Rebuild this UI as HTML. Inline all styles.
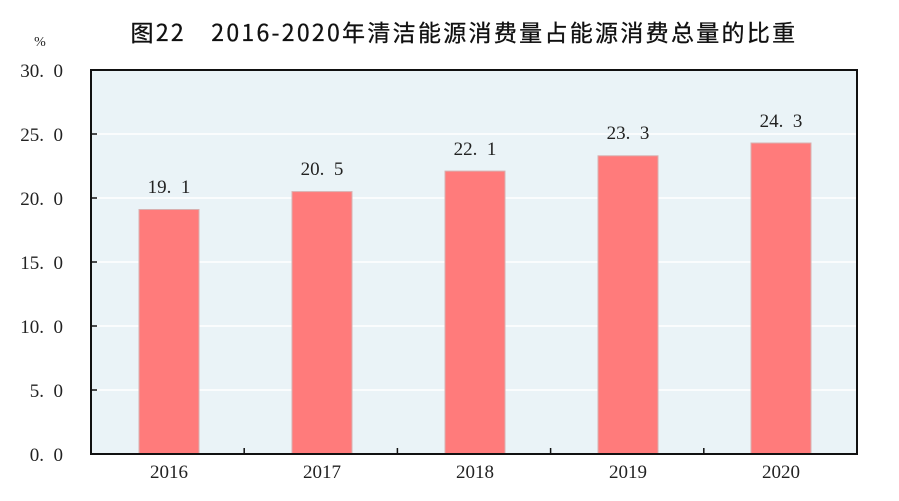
<!DOCTYPE html>
<html><head><meta charset="utf-8"><style>
body{margin:0;background:#fff;}
svg{display:block;}
text{white-space:pre;}
</style></head><body>
<svg width="899" height="501" xmlns="http://www.w3.org/2000/svg">
<text x="464" y="41" text-anchor="middle" font-family="'Noto Sans CJK SC',sans-serif" font-size="23" letter-spacing="2.3" fill="#111" stroke="#111" stroke-width="0.3">图22　2016-2020年清洁能源消费量占能源消费总量的比重</text>
<text x="40" y="46" text-anchor="middle" font-family="'Liberation Serif','Noto Serif CJK SC',serif" font-size="14" fill="#222">%</text>
<rect x="91" y="70" width="766" height="384" fill="#EAF3F7"/>
<g stroke="#fff" stroke-width="1.5">
<line x1="91" x2="857" y1="134" y2="134"/><line x1="91" x2="857" y1="198" y2="198"/>
<line x1="91" x2="857" y1="262" y2="262"/><line x1="91" x2="857" y1="326" y2="326"/>
<line x1="91" x2="857" y1="390" y2="390"/>
</g>
<g fill="#FF7B7B" stroke="#d8b0b0" stroke-width="1">
<rect x="139" y="209.5" width="60" height="244.5"/>
<rect x="292" y="191.6" width="60" height="262.4"/>
<rect x="445" y="171.1" width="60" height="282.9"/>
<rect x="598" y="155.8" width="60" height="298.2"/>
<rect x="751" y="143" width="60" height="311"/>
</g>
<rect x="91" y="70" width="766" height="384" fill="none" stroke="#111" stroke-width="2"/>
<g stroke="#111" stroke-width="1.5">
<line x1="91" x2="97" y1="134" y2="134"/><line x1="91" x2="97" y1="198" y2="198"/>
<line x1="91" x2="97" y1="262" y2="262"/><line x1="91" x2="97" y1="326" y2="326"/>
<line x1="91" x2="97" y1="390" y2="390"/>
<line x1="244.2" x2="244.2" y1="448" y2="454"/><line x1="397.4" x2="397.4" y1="448" y2="454"/>
<line x1="550.6" x2="550.6" y1="448" y2="454"/><line x1="703.8" x2="703.8" y1="448" y2="454"/>
</g>
<g font-family="'Liberation Serif',serif" font-size="19" fill="#222" text-anchor="end">
<text x="63" y="77">30.  0</text><text x="63" y="141">25.  0</text><text x="63" y="205">20.  0</text>
<text x="63" y="269">15.  0</text><text x="63" y="333">10.  0</text><text x="63" y="397">5.  0</text>
<text x="63" y="461">0.  0</text>
</g>
<g font-family="'Liberation Serif',serif" font-size="19" fill="#222" text-anchor="middle">
<text x="169" y="193">19.  1</text><text x="322" y="175">20.  5</text><text x="475" y="155">22.  1</text>
<text x="628" y="139">23.  3</text><text x="781" y="127">24.  3</text>
<text x="169" y="478">2016</text><text x="322" y="478">2017</text><text x="475" y="478">2018</text>
<text x="628" y="478">2019</text><text x="781" y="478">2020</text>
</g>
</svg>
</body></html>
